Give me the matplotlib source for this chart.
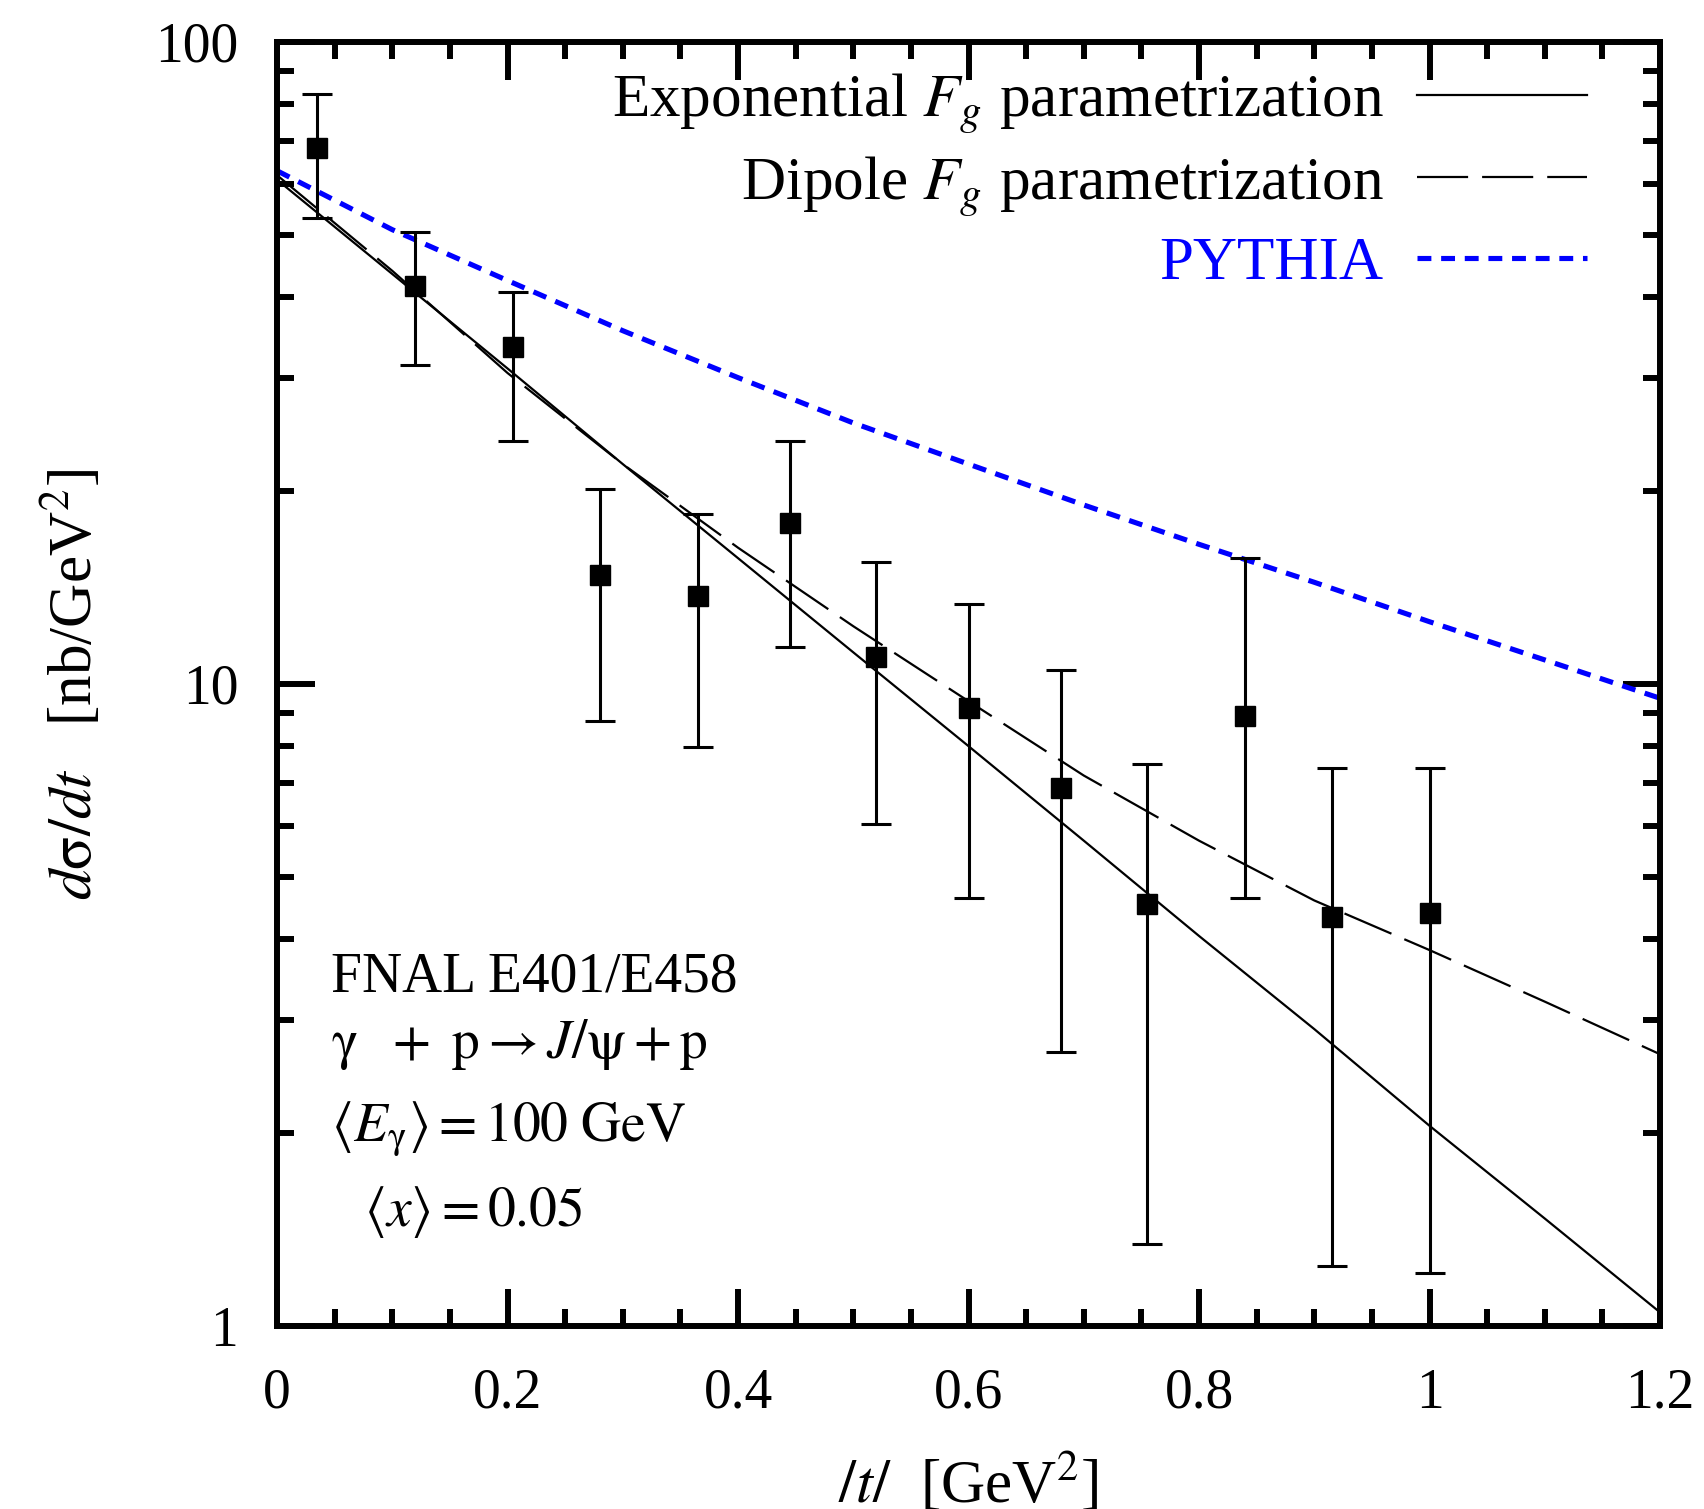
import numpy as np
import matplotlib
matplotlib.use('Agg')
import matplotlib.pyplot as plt
from matplotlib.ticker import MultipleLocator, LogLocator, FuncFormatter, NullFormatter

plt.rcParams['font.family'] = ['Liberation Serif', 'DejaVu Serif']
plt.rcParams['mathtext.fontset'] = 'stix'

# E401/E458 data points
t_data = [0.035, 0.12, 0.205, 0.28, 0.365, 0.445, 0.52, 0.60, 0.68, 0.755, 0.84, 0.915, 1.0]
xs_data = [68.3, 41.6, 33.5, 14.8, 13.7, 17.8, 11.0, 9.18, 6.88, 4.54, 8.93, 4.34, 4.40]
xs_hi = [83.0, 50.6, 40.8, 20.1, 18.4, 23.9, 15.5, 13.3, 10.5, 7.50, 15.7, 7.41, 7.41]
xs_lo = [53.2, 31.4, 23.9, 8.76, 7.98, 11.4, 6.05, 4.64, 2.67, 1.34, 4.64, 1.24, 1.21]

# model curves
t_curve = [0.0, 0.1, 0.2, 0.3, 0.4, 0.5, 0.6, 0.7, 0.8, 0.9, 1.0, 1.1, 1.2]
expo = [61.0, 43.5, 31.0, 22.0, 15.7, 11.2, 8.0, 5.7, 4.05, 2.9, 2.05, 1.47, 1.05]
dipole = [62.0, 44.0, 30.5, 22.0, 16.3, 12.3, 9.4, 7.2, 5.7, 4.6, 3.85, 3.2, 2.65]
pythia = [63.0, 51.0, 42.5, 35.5, 30.0, 25.5, 22.0, 19.0, 16.5, 14.4, 12.5, 10.9, 9.5]

fs = 40    # ticks, annotation
fs_big = 44  # legend, axis labels

fig = plt.figure(figsize=(17.04, 15.09), dpi=100)
ax = fig.add_axes([0.1626, 0.1213, 0.8116, 0.8509])

ax.plot(t_curve, expo, color='k', lw=1.6, label=r'Exponential $F_g$ parametrization')
ax.plot(t_curve, dipole, color='k', lw=1.6, linestyle=(0, (23, 6.3)),
        label=r'Dipole $F_g$ parametrization')
ax.plot(t_curve, pythia, color='#0000ff', lw=3.7, linestyle=(0, (2.7, 1.9)), label='PYTHIA')

yerr = [np.array(xs_data) - np.array(xs_lo), np.array(xs_hi) - np.array(xs_data)]
ax.errorbar(t_data, xs_data, yerr=yerr, fmt='s', color='k', ms=14, elinewidth=2.2,
            capsize=11, capthick=2.2, zorder=5)

ax.set_yscale('log')
ax.set_xlim(0, 1.2)
ax.set_ylim(1, 100)
ax.xaxis.set_major_locator(MultipleLocator(0.2))
ax.xaxis.set_minor_locator(MultipleLocator(0.05))
ax.yaxis.set_major_locator(LogLocator(base=10))
ax.yaxis.set_minor_locator(LogLocator(base=10, subs=np.arange(2, 10)))
ax.yaxis.set_minor_formatter(NullFormatter())
ax.xaxis.set_major_formatter(FuncFormatter(lambda v, p: '%g' % v))
ax.yaxis.set_major_formatter(FuncFormatter(lambda v, p: '%g' % v))

for s in ax.spines.values():
    s.set_linewidth(4.3)
ax.tick_params(which='both', direction='in', top=True, right=True, width=4.3)
ax.tick_params(which='major', length=27, labelsize=fs)
ax.tick_params(axis='y', which='major', pad=28)
ax.tick_params(axis='x', which='major', pad=30)
ax.tick_params(which='minor', length=12)

ax.set_xlabel(r'$/t/$  [GeV$^2$]', fontsize=fs_big, labelpad=24)
ax.set_ylabel(r'$d\mathrm{\sigma}/dt$   [nb/GeV$^2$]', fontsize=fs_big, labelpad=36)

leg = ax.legend(loc='upper right', bbox_to_anchor=(0.947, 0.977), frameon=False,
                fontsize=fs_big, markerfirst=False, handlelength=2.77,
                handletextpad=0.55, labelspacing=0.3, borderaxespad=0, borderpad=0)
leg.get_texts()[2].set_color('#0000ff')

ax.text(0.039, 0.271, 'FNAL E401/E458', transform=ax.transAxes, fontsize=fs, va='center')
ax.text(0.039, 0.219, r'$\mathrm{\gamma}\ \ +\ \mathrm{p}\rightarrow J/\mathrm{\psi} + \mathrm{p}$',
        transform=ax.transAxes, fontsize=fs, va='center')
ax.text(0.039, 0.153, r'$\langle E_{\mathrm{\gamma}}\rangle = 100\ \mathrm{GeV}$',
        transform=ax.transAxes, fontsize=fs, va='center')
ax.text(0.063, 0.089, r'$\langle x\rangle = 0.05$', transform=ax.transAxes,
        fontsize=fs, va='center')

fig.savefig('out.png', dpi=100)
